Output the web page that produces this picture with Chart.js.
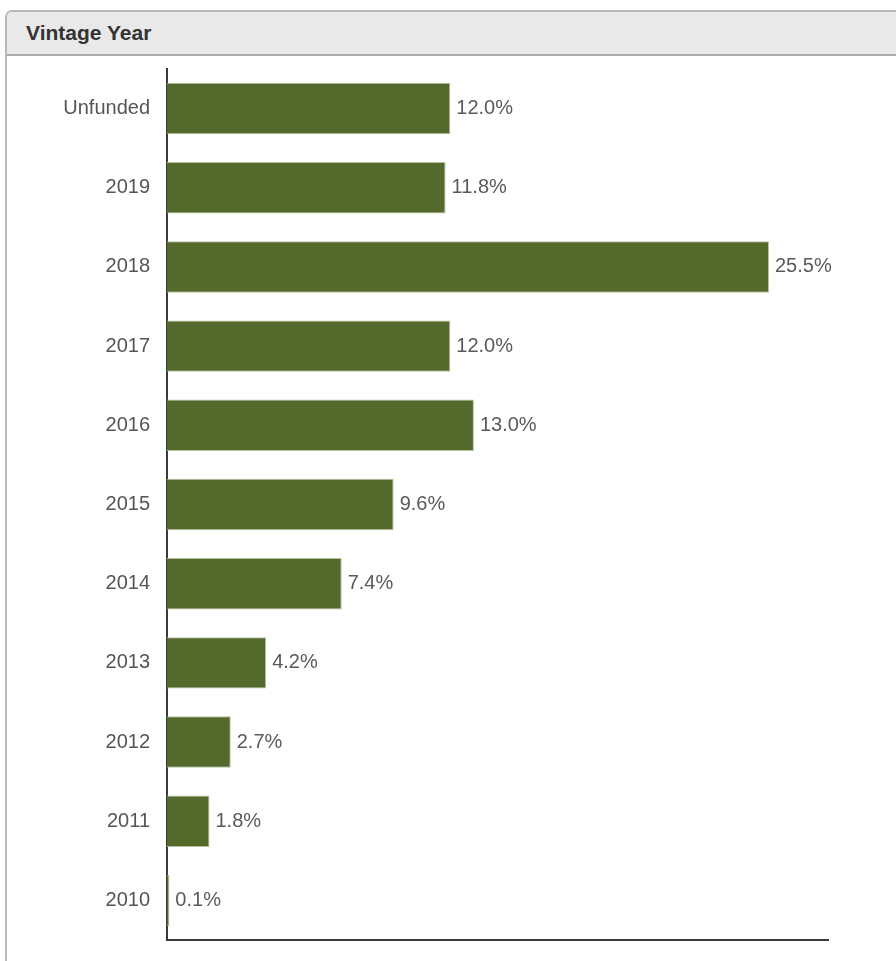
<!DOCTYPE html>
<html lang="en">
<head>
    <meta charset="UTF-8">
    <title>Vintage Year</title>
    <script src="https://cdn.jsdelivr.net/npm/chart.js"></script>
    <style>
        html, body { margin: 0; padding: 0; background: #fff; overflow: hidden; }
        body { width: 896px; height: 961px; position: relative; font-family: "Liberation Sans", Arial, sans-serif; }
        .panel {
            position: absolute; left: 5px; top: 10px; width: 1000px; height: 1000px;
            border: 2px solid #b8b8b8; border-top-left-radius: 7px; box-sizing: border-box;
        }
        .panel-head {
            height: 44px; background: #e9e9e9; border-bottom: 2px solid #ababab;
            border-top-left-radius: 5px; box-sizing: border-box;
            font-weight: bold; font-size: 21px; color: #333; line-height: 41px; padding-left: 19px;
        }
        .chart-box { position: absolute; left: 6px; top: 48px; width: 890px; height: 913px; }
    </style>
</head>
<body>
    <div class="panel">
        <div class="panel-head">Vintage Year</div>
    </div>
    <div class="chart-box"><canvas id="vintageChart"></canvas></div>

    <script>
        const years = ['Unfunded', '2019', '2018', '2017', '2016', '2015', '2014', '2013', '2012', '2011', '2010'];
        const shares = [12.0, 11.8, 25.5, 12.0, 13.0, 9.6, 7.4, 4.2, 2.7, 1.8, 0.1];

        // draw the % label at the end of each bar
        const valueLabels = {
            id: 'valueLabels',
            afterDatasetsDraw(chart) {
                const ctx = chart.ctx;
                const meta = chart.getDatasetMeta(0);
                ctx.save();
                ctx.font = '20px "Liberation Sans", Arial, sans-serif';
                ctx.fillStyle = '#5a5a5a';
                ctx.textBaseline = 'middle';
                ctx.textAlign = 'left';
                meta.data.forEach((bar, i) => {
                    ctx.fillText(shares[i].toFixed(1) + '%', bar.x + 6, bar.y);
                });
                ctx.restore();
            }
        };

        const ctx = document.getElementById('vintageChart').getContext('2d');
        new Chart(ctx, {
            type: 'bar',
            data: {
                labels: years,
                datasets: [{
                    data: shares,
                    backgroundColor: '#536a2c',
                    borderColor: '#b4c29c',
                    borderWidth: 1,
                    barPercentage: 0.65,
                    categoryPercentage: 1
                }]
            },
            options: {
                indexAxis: 'y',
                responsive: true,
                maintainAspectRatio: false,
                animation: false,
                layout: { padding: { top: 0, right: 68, bottom: 8, left: 0 } },
                plugins: {
                    legend: { display: false },
                    tooltip: { enabled: false }
                },
                scales: {
                    x: {
                        min: 0,
                        max: 28,
                        grid: { display: false },
                        border: { display: true, color: '#3a3a3a', width: 2 },
                        ticks: { display: false },
                        afterFit(scale) { scale.height = 0; }
                    },
                    y: {
                        grid: { display: false },
                        border: { display: true, color: '#3a3a3a', width: 2 },
                        ticks: {
                            color: '#555',
                            padding: 9,
                            font: { family: '"Liberation Sans", Arial, sans-serif', size: 20 }
                        },
                        afterFit(scale) { scale.width = 161; }
                    }
                }
            },
            plugins: [valueLabels]
        });
    </script>
</body>
</html>
